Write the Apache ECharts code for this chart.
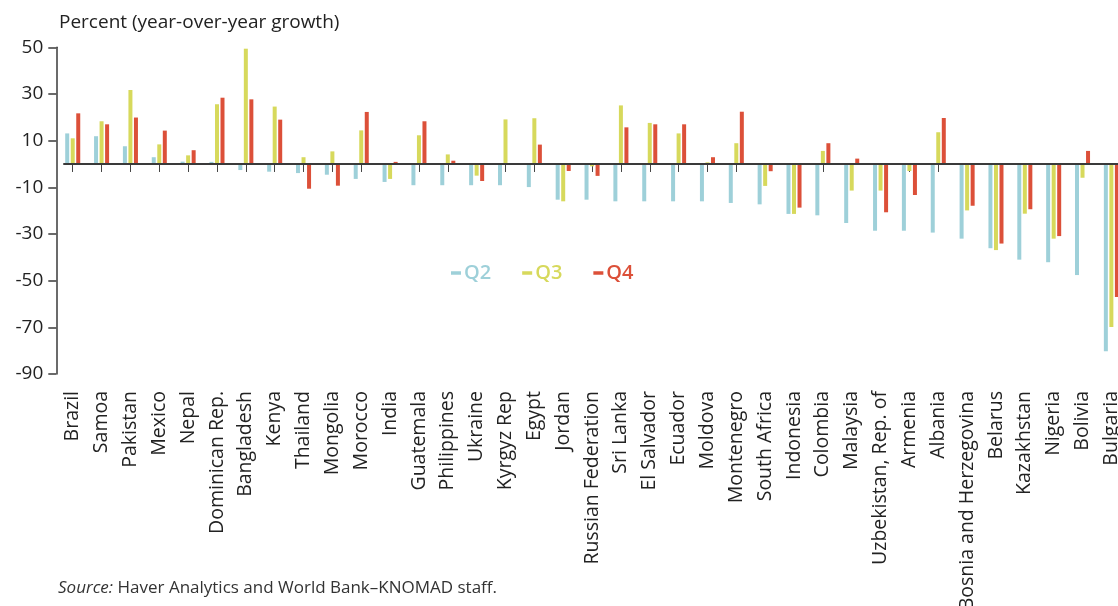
<!DOCTYPE html>
<html>
<head>
<meta charset="utf-8">
<script src="https://cdn.jsdelivr.net/npm/echarts@6/dist/echarts.min.js"></script>
<style>
html,body{margin:0;padding:0;background:#fff;}
#chart{width:1118px;height:606px;}
</style>
</head>
<body>
<div id="chart"></div>
<script>
var categories = ['Brazil','Samoa','Pakistan','Mexico','Nepal','Dominican Rep.','Bangladesh','Kenya','Thailand','Mongolia','Morocco','India','Guatemala','Philippines','Ukraine','Kyrgyz Rep','Egypt','Jordan','Russian Federation','Sri Lanka','El Salvador','Ecuador','Moldova','Montenegro','South Africa','Indonesia','Colombia','Malaysia','Uzbekistan, Rep. of','Armenia','Albania','Bosnia and Herzegovina','Belarus','Kazakhstan','Nigeria','Bolivia','Bulgaria'];
var q2 = [13.1,11.9,7.6,2.9,1.0,0.9,-2.6,-3.3,-3.9,-4.6,-6.4,-7.7,-9.1,-9.1,-9.1,-9.1,-9.9,-15.3,-15.3,-16.0,-16.0,-16.0,-16.0,-16.7,-17.3,-21.4,-22.0,-25.3,-28.6,-28.6,-29.4,-32.0,-36.1,-41.0,-42.1,-47.6,-80.3];
var q3 = [11.0,18.3,31.7,8.4,3.7,25.6,49.4,24.6,2.9,5.4,14.4,-6.4,12.3,4.1,-5.0,19.1,19.6,-16.0,-1.0,25.1,17.6,13.1,0.7,8.9,-9.4,-21.4,5.6,-11.4,-11.4,-3.0,13.6,-19.9,-36.9,-21.3,-32.0,-5.9,-69.9];
var q4 = [21.7,17.0,19.9,14.3,5.9,28.4,27.7,19.0,-10.6,-9.3,22.3,0.9,18.3,1.4,-7.3,0,8.3,-3.0,-5.1,15.7,17.0,17.0,2.9,22.4,-3.1,-18.7,8.9,2.3,-20.7,-13.3,19.7,-17.9,-34.1,-19.4,-30.9,5.6,-57.0];
var yTicks = {min:-90, max:50, interval:20};
var seriesNames = ['Q2','Q3','Q4'];
var colors = ['#9ed0d9','#d7d95c','#dc5039'];

var FONT = '"Open Sans"';
var chart = echarts.init(document.getElementById('chart'), null, {renderer:'canvas'});
var gridTop = 47.3, gridBottom = 232;
var option = {
  animation:false,
  textStyle:{fontFamily:FONT},
  title:[
    {text:'Percent (year-over-year growth)', left:54, top:8, textStyle:{fontFamily:FONT, fontSize:19, fontWeight:'normal', color:'#222'}},
    {text:'{i|Source:} Haver Analytics and World Bank\u2013KNOMAD staff.', left:53, top:575,
     textStyle:{fontFamily:FONT, fontSize:17, fontWeight:'normal', color:'#333',
       rich:{i:{fontFamily:FONT, fontSize:17, fontStyle:'italic', color:'#333'}}}}
  ],
  legend:{
    left:446, top:258, itemWidth:10, itemHeight:3.5, itemGap:31, icon:'rect',
    textStyle:{fontFamily:FONT, fontSize:20, fontWeight:600, padding:[0,0,0,-2]},
    data:seriesNames.map(function(n,i){return {name:n, textStyle:{color:colors[i]}};})
  },
  grid:[
    {left:58.3, width:1067.5, top:gridTop, bottom:gridBottom, containLabel:false, outerBoundsMode:'none'},
    {left:64, width:1070, top:gridTop, bottom:gridBottom, containLabel:false, outerBoundsMode:'none'}
  ],
  xAxis:[
    {type:'category', gridIndex:0, data:categories,
     axisLine:{show:false},
     axisTick:{show:true, alignWithLabel:true, length:8, lineStyle:{color:'#444', width:1}},
     axisLabel:{rotate:90, interval:0, margin:17, fontFamily:FONT, fontSize:19.5, color:'#222'}},
    {type:'category', gridIndex:1, data:categories, z:5,
     axisLine:{show:true, onZero:true, lineStyle:{color:'#3a3a3a', width:2}},
     axisTick:{show:false}, axisLabel:{show:false}}
  ],
  yAxis:[
    {type:'value', gridIndex:0, min:yTicks.min, max:yTicks.max, interval:yTicks.interval, offset:2,
     axisLine:{show:true, lineStyle:{color:'#3a3a3a', width:1.5}},
     axisTick:{show:true, length:8, lineStyle:{color:'#3a3a3a', width:1.5}},
     axisLabel:{fontFamily:FONT, fontSize:19, color:'#222', margin:13},
     splitLine:{show:false}},
    {type:'value', gridIndex:1, min:yTicks.min, max:yTicks.max, interval:yTicks.interval, show:false, splitLine:{show:false}}
  ],
  series:seriesNames.map(function(n,i){
    return {name:n, type:'bar', xAxisIndex:0, yAxisIndex:0, data:[q2,q3,q4][i],
      barWidth:4, barGap:'38%', itemStyle:{color:colors[i]}};
  })
};
chart.setOption(option);
</script>
</body>
</html>
